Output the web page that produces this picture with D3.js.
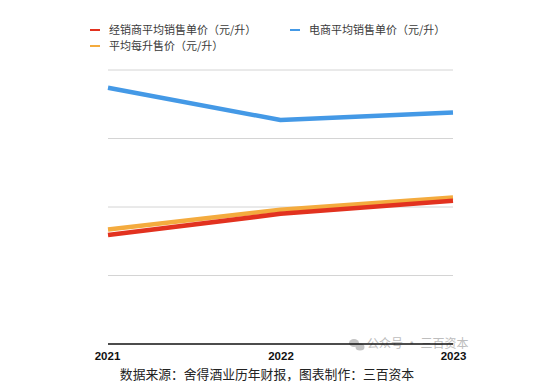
<!DOCTYPE html>
<html><head><meta charset="utf-8">
<script src="https://cdn.jsdelivr.net/npm/d3@7"></script>
<style>body{margin:0;background:#fff}svg{display:block}</style>
</head><body>
<svg id="c" width="550" height="389"></svg>
<script>
const years = ["2021", "2022", "2023"];
const dealerPrice = [159, 190, 209];
const ecomPrice = [374, 327, 338];
const avgPrice = [167, 196, 214];
const seriesNames = ["经销商平均销售单价（元/升）", "电商平均销售单价（元/升）", "平均每升售价（元/升）"];
const seriesColors = ["#e2321f", "#4499e6", "#f4ab3e"];
const gridTicks = [100, 200, 300, 400];
const sourceText = "数据来源：舍得酒业历年财报，图表制作：三百资本";
const watermark = "公众号 · 三百资本";

const svg = d3.select("#c");
const font = "'Noto Sans CJK SC', 'Liberation Sans', sans-serif";
const x = d3.scalePoint().domain(years).range([108, 453]);
const y = d3.scaleLinear().domain([0, 400]).range([344, 70]);

svg.append("g").selectAll("line").data(gridTicks).join("line")
  .attr("x1", 108).attr("x2", 453)
  .attr("y1", d => y(d)).attr("y2", d => y(d))
  .attr("stroke", "#d4d4d4").attr("stroke-width", 1);

const series = [
  {name: seriesNames[1], color: seriesColors[1], values: ecomPrice},
  {name: seriesNames[2], color: seriesColors[2], values: avgPrice},
  {name: seriesNames[0], color: seriesColors[0], values: dealerPrice}
];
const line = d3.line().x((d, i) => x(years[i])).y(d => y(d));
svg.append("g").selectAll("path").data(series).join("path")
  .attr("d", d => line(d.values))
  .attr("fill", "none").attr("stroke", d => d.color)
  .attr("stroke-width", 4.5).attr("stroke-linejoin", "round");

// watermark
const wm = svg.append("g").attr("fill", "#c4c4c4");
wm.append("ellipse").attr("cx", 354).attr("cy", 343).attr("rx", 5).attr("ry", 4);
wm.append("ellipse").attr("cx", 360).attr("cy", 347).attr("rx", 4.5).attr("ry", 3.5);
wm.append("text").attr("x", 367).attr("y", 348).attr("font-family", font)
  .attr("font-size", 12).attr("fill", "#bdbdbd").text(watermark);

// baseline axis
const xAxis = d3.axisBottom(x).tickSize(0).tickPadding(8);
const ax = svg.append("g").attr("transform", "translate(0,344)").call(xAxis);
ax.select(".domain").attr("stroke", "#111").attr("stroke-width", 1.6).attr("d", "M108,0H453");
ax.selectAll("text").attr("font-family", "'Liberation Sans', Arial, sans-serif")
  .attr("font-size", 11.5).attr("font-weight", "bold").attr("fill", "#111");
ax.selectAll(".tick").filter(d => d === "2021").select("text").attr("dx", -1);

// legend
const legend = [
  {name: seriesNames[0], color: seriesColors[0], lx: 90, ly: 30},
  {name: seriesNames[1], color: seriesColors[1], lx: 290, ly: 30},
  {name: seriesNames[2], color: seriesColors[2], lx: 90, ly: 46}
];
const lg = svg.append("g").selectAll("g").data(legend).join("g")
  .attr("transform", d => `translate(${d.lx},${d.ly})`);
lg.append("line").attr("x1", 0).attr("x2", 10).attr("stroke", d => d.color).attr("stroke-width", 2);
lg.append("text").attr("x", 19).attr("dy", "0.35em").attr("font-family", font)
  .attr("font-size", 11).attr("fill", "#3a3a3a").text(d => d.name);

svg.append("text").attr("x", 267).attr("y", 379).attr("text-anchor", "middle")
  .attr("font-family", font).attr("font-size", 12.8).attr("fill", "#222").text(sourceText);
</script>
</body></html>
